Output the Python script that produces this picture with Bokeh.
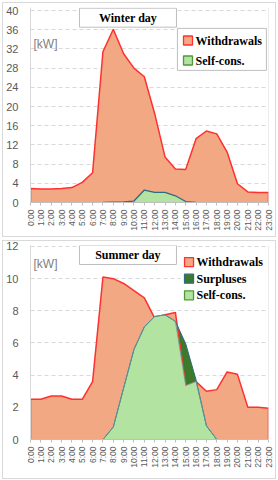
import math
from bokeh.plotting import figure
from bokeh.layouts import column
from bokeh.models import Range1d, FixedTicker, Legend, LegendItem, Span, InlineStyleSheet
from bokeh.core.properties import value
from bokeh.embed import file_html
from bokeh.resources import INLINE

hours = list(range(24))
hour_labels = [f"{h}:00" for h in hours]

winter_withdrawals = [2.9, 2.8, 2.8, 2.9, 3.1, 4.2, 6.2, 31.4, 36.1, 31.0, 28.0, 26.2,
                      18.5, 9.5, 7.0, 6.9, 13.3, 14.9, 14.3, 10.5, 3.9, 2.2, 2.1, 2.1]
winter_selfcons = [0, 0, 0, 0, 0, 0, 0, 0, 0.05, 0.1, 0.3, 2.6,
                   2.1, 2.1, 1.4, 0.2, 0, 0, 0, 0, 0, 0, 0, 0]

summer_withdrawals = [2.5, 2.5, 2.7, 2.7, 2.5, 2.5, 3.6, 10.1, 10.0, 9.7, 9.25, 8.8,
                      7.55, 7.75, 7.9, 3.35, 3.6, 3.0, 3.1, 4.2, 4.05, 2.0, 2.0, 1.95]
summer_production = [0, 0, 0, 0, 0, 0, 0, 0, 0.77, 3.2, 5.6, 7.0,
                     7.65, 7.75, 7.35, 5.95, 3.7, 0.85, 0, 0, 0, 0, 0, 0]
summer_selfcons = [0, 0, 0, 0, 0, 0, 0, 0, 0.77, 3.2, 5.6, 7.0,
                   7.65, 7.75, 7.35, 3.35, 3.6, 0.85, 0, 0, 0, 0, 0, 0]

winter_ticks = list(range(0, 41, 4))
summer_ticks = list(range(0, 13, 2))

winter_legend_labels = ["Withdrawals", "Self-cons."]
summer_legend_labels = ["Withdrawals", "Surpluses", "Self-cons."]

SALMON = "#F2A883"
RED = "#FF3030"
LIGHT_GREEN = "#B3E3A0"
DARK_GREEN = "#3B7A2A"
TEAL = "#2E6B80"
GREEN_EDGE = "#4E9A3A"
GRID = "#d9d9d9"
TICK_TEXT = "#595959"
NAN = float("nan")

frame_css = InlineStyleSheet(css=""":host { position: relative; }
:host::after { content: ''; position: absolute; left: 2px; top: 2px; right: 2px; bottom: 1px;
  border: 1px solid #d9d9d9; pointer-events: none; }""")


def make_fig(height, border_top, border_bottom, y_end, ticks):
    p = figure(width=278, height=height, output_backend="svg", toolbar_location=None,
               x_range=Range1d(0, 23), y_range=Range1d(0, y_end),
               min_border_left=30, min_border_right=10,
               min_border_top=border_top, min_border_bottom=border_bottom)
    p.stylesheets = [frame_css]
    p.outline_line_color = None
    p.background_fill_color = "white"
    p.border_fill_color = "white"
    p.xgrid.grid_line_color = None
    p.ygrid.grid_line_color = GRID
    p.ygrid.grid_line_dash = "4 3"
    p.ygrid.grid_line_width = 1

    p.yaxis.ticker = FixedTicker(ticks=ticks)
    p.yaxis.major_tick_line_color = None
    p.yaxis.major_tick_out = 0
    p.yaxis.major_tick_in = 0
    p.yaxis.minor_tick_line_color = None
    p.yaxis.minor_tick_out = 0
    p.yaxis.axis_line_color = GRID
    p.yaxis.major_label_standoff = 12
    p.yaxis.major_label_text_font = "Liberation Sans"
    p.yaxis.major_label_text_font_size = "11px"
    p.yaxis.major_label_text_color = TICK_TEXT

    p.xaxis.ticker = FixedTicker(ticks=hours)
    p.xaxis.major_label_overrides = {h: lab for h, lab in zip(hours, hour_labels)}
    p.xaxis.major_label_orientation = math.pi / 2
    p.xaxis.major_label_text_font = "Liberation Sans"
    p.xaxis.major_label_text_font_size = "8.5px"
    p.xaxis.major_label_text_color = TICK_TEXT
    p.xaxis.major_label_standoff = 4
    p.xaxis.major_tick_in = 0
    p.xaxis.major_tick_out = 3
    p.xaxis.major_tick_line_color = "#bfbfbf"
    p.xaxis.minor_tick_line_color = None
    p.xaxis.minor_tick_out = 0
    p.xaxis.axis_line_color = "#bfbfbf"

    p.add_layout(Span(location=23, dimension="height", line_color=GRID, line_width=1))
    return p


def outline(xs, ys):
    return [xs[0]] + list(xs) + [xs[-1]], [0] + list(ys) + [0]


def manual_legend(p, gx, tx, ys, labels, fills, edges):
    p.rect(x=[gx] * len(ys), y=ys, width=9, height=9, width_units="screen",
           height_units="screen", fill_color=fills, line_color=edges, line_width=1.3)
    p.text(x=[tx] * len(ys), y=ys, text=labels, text_align="left", text_baseline="middle",
           text_font=value("Liberation Serif"), text_font_style="bold",
           text_font_size="12px", text_color="black")


# ---------------- Winter ----------------
pw = make_fig(238, 7, 36, 40.625, winter_ticks)
pw.varea(x=hours, y1=0, y2=winter_withdrawals, fill_color=SALMON)
ox, oy = outline(hours, winter_withdrawals)
pw.line(ox, oy, line_color=RED, line_width=1.5)
pw.varea(x=hours, y1=0, y2=winter_selfcons, fill_color=LIGHT_GREEN)
pw.line(hours[7:17], winter_selfcons[7:17], line_color=TEAL, line_width=1.3)

pw.rect(x=[9.42], y=[38.5], width=97, height=19, width_units="screen", height_units="screen",
        fill_color="white", line_color="#bfbfbf", line_width=1)
pw.text(x=[9.42], y=[38.5], text=["Winter day"], text_align="center", text_baseline="middle",
        text_font=value("Liberation Serif"), text_font_style="bold", text_font_size="12px",
        text_color="black")
pw.text(x=[0.29], y=[33.1], text=["[kW]"], text_align="left", text_baseline="middle",
        text_font=value("Liberation Sans"), text_font_size="12px", text_color="#808080")

# legend box
pw.rect(x=[18.5], y=[31.9], width=89, height=42, width_units="screen", height_units="screen",
        fill_color="white", line_color="#bfbfbf", line_width=1)
manual_legend(pw, 15.22, 15.95, [33.75, 29.58], winter_legend_labels,
              [SALMON, LIGHT_GREEN], [RED, GREEN_EDGE])

# ---------------- Summer ----------------
ps = make_fig(242, 7, 41, 12.06, summer_ticks)
ps.varea(x=hours, y1=0, y2=summer_production, fill_color=DARK_GREEN)
ps.varea(x=hours, y1=0, y2=summer_withdrawals, fill_color=SALMON)
ox, oy = outline(hours, summer_withdrawals)
ps.line(ox, oy, line_color=RED, line_width=1.5)
ps.varea(x=hours, y1=0, y2=summer_selfcons, fill_color=LIGHT_GREEN)
ps.line(hours[7:19], summer_production[7:19], line_color=TEAL, line_width=1.0)
ps.line(hours[7:19], summer_selfcons[7:19], line_color="#5E9FA0", line_width=0.8)

ps.rect(x=[9.42], y=[11.47], width=97, height=19, width_units="screen", height_units="screen",
        fill_color="white", line_color="#bfbfbf", line_width=1)
ps.text(x=[9.42], y=[11.47], text=["Summer day"], text_align="center", text_baseline="middle",
        text_font=value("Liberation Serif"), text_font_style="bold", text_font_size="12px",
        text_color="black")
ps.text(x=[0.29], y=[10.88], text=["[kW]"], text_align="left", text_baseline="middle",
        text_font=value("Liberation Sans"), text_font_size="12px", text_color="#808080")

ps.rect(x=[18.75], y=[10.0], width=88, height=52, width_units="screen", height_units="screen",
        fill_color="white", line_color=None)
manual_legend(ps, 15.32, 16.04, [11.03, 10.0, 8.96], summer_legend_labels,
              [SALMON, DARK_GREEN, LIGHT_GREEN], [RED, TEAL, GREEN_EDGE])

layout = column(pw, ps, spacing=0)
open("out.html", "w").write(file_html(layout, INLINE))
